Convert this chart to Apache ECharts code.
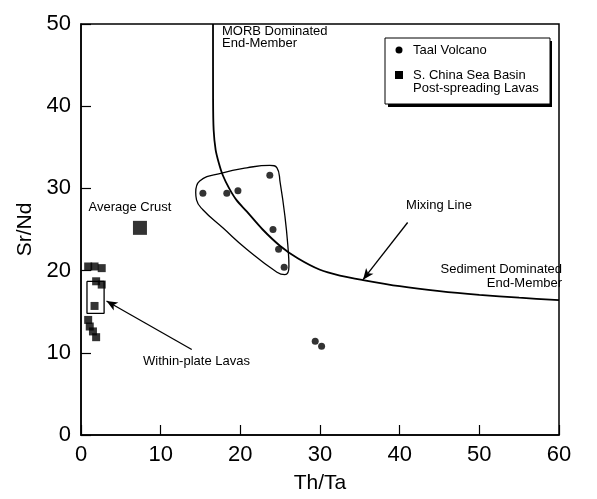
<!DOCTYPE html>
<html><head><meta charset="utf-8">
<script src="https://cdn.jsdelivr.net/npm/echarts@6/dist/echarts.min.js"></script>
<style>html,body{margin:0;padding:0;background:#fff}#c{width:597px;height:499px}</style>
</head><body><div id="c"></div>
<script>
// Taal Volcano samples [Th/Ta, Sr/Nd]
const taalX = [15.3, 18.3, 19.7, 23.7, 24.1, 24.8, 25.5, 29.4, 30.2];
const taalY = [29.4, 29.4, 29.7, 31.6, 25.0, 22.6, 20.4, 11.4, 10.8];
// S. China Sea Basin post-spreading lavas
const scsX = [0.9, 1.7, 2.6, 1.9, 2.6, 1.7, 0.9, 1.1, 1.5, 1.9];
const scsY = [20.5, 20.5, 20.3, 18.7, 18.3, 15.7, 14.0, 13.2, 12.6, 11.9];
// Average crust
const crustX = [7.4];
const crustY = [25.2];
// Mixing line
const mixX = [16.57, 16.58, 16.65, 16.9, 17.3, 17.8, 18.6, 19.5, 20.8, 22.8, 25.0, 27.2, 30.0, 32.5, 35.4, 40.0, 45.0, 50.0, 55.0, 60.0];
const mixY = [50.0, 40.8, 37.1, 34.7, 33.1, 31.6, 30.0, 28.6, 27.2, 25.0, 23.0, 21.5, 20.1, 19.4, 18.85, 18.1, 17.5, 17.05, 16.7, 16.4];
// Taal field outline
const fieldX = [14.4, 14.9, 17.8, 20.8, 23.7, 24.6, 25.0, 25.6, 26.0, 26.1, 25.6, 24.6, 20.8, 17.8, 15.3, 14.5, 14.4];
const fieldY = [29.5, 30.9, 31.9, 32.5, 32.8, 32.5, 30.7, 26.6, 22.6, 20.5, 19.5, 19.8, 22.6, 25.2, 27.4, 28.6, 29.5];
// Within-plate lavas box
const wpX = [0.75, 2.9, 2.9, 0.75, 0.75];
const wpY = [18.7, 18.7, 14.8, 14.8, 18.7];
// Arrows [from, to]
const arrowWP = [[13.9, 10.4], [3.2, 16.3]];
const arrowMix = [[41.0, 25.85], [35.4, 18.9]];
const xTicks = [0, 10, 20, 30, 40, 50, 60];
const yTicks = [0, 10, 20, 30, 40, 50];

const zip = (a, b) => a.map((v, i) => [v, b[i]]);
const FONT = 'Liberation Sans, Arial, Helvetica, sans-serif';
const chart = echarts.init(document.getElementById('c'), null, {renderer: 'canvas'});
const txt = (x, y, s, align) => ({type: 'text', x, y, style: {text: s, font: '13px ' + FONT, fill: '#000', align: align || 'left', verticalAlign: 'middle', lineHeight: 13}});
chart.setOption({
  animation: false,
  grid: {left: 81, right: 38, top: 24, bottom: 63, show: true, borderColor: '#000', borderWidth: 1.5},
  xAxis: {type: 'value', min: xTicks[0], max: xTicks[xTicks.length - 1], interval: 10,
    name: 'Th/Ta', nameLocation: 'middle', nameGap: 38,
    nameTextStyle: {fontSize: 21, color: '#000', fontFamily: FONT},
    axisLine: {lineStyle: {color: '#000', width: 1.5}},
    axisTick: {inside: true, length: 10, lineStyle: {color: '#000', width: 1.2}},
    axisLabel: {fontSize: 22, color: '#000', fontFamily: FONT, margin: 9},
    splitLine: {show: false}},
  yAxis: {type: 'value', min: yTicks[0], max: yTicks[yTicks.length - 1], interval: 10,
    name: 'Sr/Nd', nameLocation: 'middle', nameGap: 41,
    nameTextStyle: {fontSize: 21, color: '#000', fontFamily: FONT},
    axisLine: {lineStyle: {color: '#000', width: 1.5}},
    axisTick: {inside: true, length: 10, lineStyle: {color: '#000', width: 1.2}},
    axisLabel: {fontSize: 22, color: '#000', fontFamily: FONT, margin: 10},
    splitLine: {show: false}},
  series: [
    {name: 'Mixing Line', type: 'line', data: zip(mixX, mixY), smooth: 0.3, showSymbol: false, symbol: 'none',
     lineStyle: {color: '#000', width: 1.8}, z: 3},
    {name: 'Taal field', type: 'line', data: zip(fieldX, fieldY), smooth: 0.5, symbol: 'none',
     lineStyle: {color: '#000', width: 1.3}, z: 3},
    {name: 'Within-plate Lavas', type: 'line', data: zip(wpX, wpY), smooth: false, symbol: 'none',
     lineStyle: {color: '#000', width: 1.3}, z: 3,
     markLine: {silent: true, symbol: ['none', 'arrow'], symbolSize: [7, 11], label: {show: false},
       lineStyle: {color: '#000', width: 1.3, type: 'solid'},
       data: [[{coord: arrowWP[0]}, {coord: arrowWP[1]}], [{coord: arrowMix[0]}, {coord: arrowMix[1]}]]}},
    {name: 'Taal Volcano', type: 'scatter', data: zip(taalX, taalY), symbol: 'circle', symbolSize: 7,
     itemStyle: {color: '#000'}, z: 5},
    {name: 'S. China Sea Basin', type: 'scatter', data: zip(scsX, scsY), symbol: 'rect', symbolSize: 8,
     itemStyle: {color: '#000'}, z: 5},
    {name: 'Average Crust', type: 'scatter', data: zip(crustX, crustY), symbol: 'rect', symbolSize: 14,
     itemStyle: {color: '#000'}, z: 5}
  ],
  graphic: [
    txt(222, 31, 'MORB Dominated'), txt(222, 43, 'End-Member'),
    txt(130, 207, 'Average Crust', 'center'),
    txt(439, 205, 'Mixing Line', 'center'),
    txt(562, 269, 'Sediment Dominated', 'right'), txt(562, 283, 'End-Member', 'right'),
    txt(143, 361, 'Within-plate Lavas'),
    // legend box with drop shadow
    {type: 'rect', shape: {x: 388, y: 41, width: 164, height: 66}, style: {fill: '#000'}},
    {type: 'rect', shape: {x: 385, y: 38, width: 165, height: 66}, style: {fill: '#fff', stroke: '#000', lineWidth: 1}},
    {type: 'circle', shape: {cx: 399, cy: 50, r: 3.5}, style: {fill: '#000'}},
    {type: 'rect', shape: {x: 395, y: 71, width: 8, height: 8}, style: {fill: '#000'}},
    txt(413, 50, 'Taal Volcano'), txt(413, 75, 'S. China Sea Basin'), txt(413, 88, 'Post-spreading Lavas')
  ]
});
</script></body></html>
